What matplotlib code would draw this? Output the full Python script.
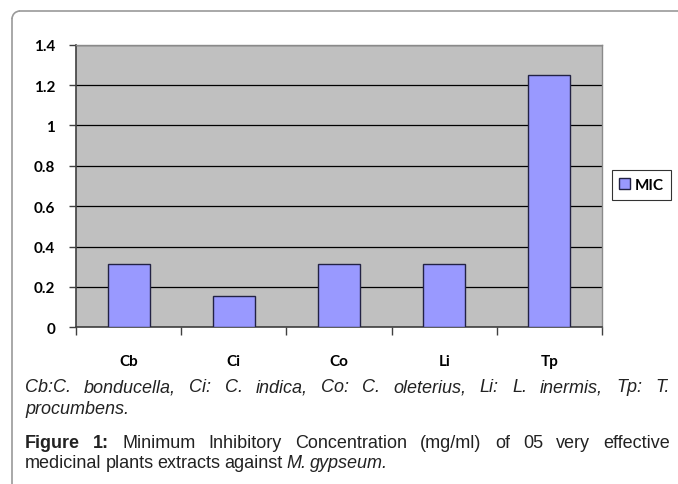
import matplotlib
matplotlib.use("Agg")
import matplotlib.pyplot as plt
from matplotlib import font_manager
from matplotlib.patches import Arc
from matplotlib.lines import Line2D

categories = ["Cb", "Ci", "Co", "Li", "Tp"]
mic_values = [0.3125, 0.156, 0.3125, 0.3125, 1.25]
series_name = "MIC"
y_ticks = [0, 0.2, 0.4, 0.6, 0.8, 1, 1.2, 1.4]
y_tick_labels = ["0", "0.2", "0.4", "0.6", "0.8", "1", "1.2", "1.4"]

names = {f.name for f in font_manager.fontManager.ttflist}
cap_font = "Liberation Sans Narrow" if "Liberation Sans Narrow" in names else "Liberation Sans"
tick_font = "Lato" if "Lato" in names else "DejaVu Sans"

W, H = 678, 485
fig = plt.figure(figsize=(W / 100, H / 100), dpi=100)

frame_ax = fig.add_axes([0, 0, 1, 1])
frame_ax.set_xlim(0, W)
frame_ax.set_ylim(H, 0)
frame_ax.axis("off")
r = 8
frame_ax.add_line(Line2D([12, 12], [H + 5, 12 + r], color="#9a9a9a", lw=1.2))
frame_ax.add_line(Line2D([12 + r, W + 5], [12, 12], color="#9a9a9a", lw=1.2))
frame_ax.add_patch(Arc((12 + r, 12 + r), 2 * r, 2 * r, theta1=180, theta2=270,
                       color="#9a9a9a", lw=1.2))

ax = fig.add_axes([76 / W, 1 - 328.3 / H, (602 - 76) / W, (328.3 - 45.7) / H])
ax.set_facecolor("#c0c0c0")
x = list(range(len(categories)))
bars = ax.bar(x, mic_values, width=0.4, color="#9999ff", edgecolor="#222244",
              linewidth=1.0, label=series_name, zorder=3)
ax.set_xlim(-0.5, len(categories) - 0.5)
ax.set_ylim(0, 1.4)
ax.set_yticks(y_ticks)
ax.set_yticklabels(y_tick_labels, fontsize=11, fontweight="bold", family=tick_font)
ax.yaxis.grid(True, color="black", lw=0.9, zorder=1)
ax.set_axisbelow(True)
ax.set_xticks(x)
ax.set_xticklabels(categories, fontsize=11, fontweight="bold", family=tick_font)
ax.tick_params(axis="x", length=0, pad=19)
ax.tick_params(axis="y", length=5, width=1, color="#404040", pad=10)
ax.set_xticks([i - 0.5 for i in range(len(categories) + 1)], minor=True)
ax.tick_params(axis="x", which="minor", length=6, width=1, color="#404040", direction="out")
for s in ["left", "bottom"]:
    ax.spines[s].set_color("#404040")
    ax.spines[s].set_linewidth(1.2)
for s in ["top", "right"]:
    ax.spines[s].set_color("#8a8a8a")
    ax.spines[s].set_linewidth(1.0)

leg = fig.legend(handles=[bars], labels=[series_name], loc="center",
                 bbox_to_anchor=(641.5 / W, 1 - 186 / H), frameon=True, fancybox=False,
                 edgecolor="black", prop={"family": tick_font, "weight": "bold", "size": 11},
                 handlelength=0.7, handleheight=0.7, handletextpad=0.3, borderpad=0.5,
                 borderaxespad=0)
leg.get_frame().set_linewidth(0.8)

fig.canvas.draw()
renderer = fig.canvas.get_renderer()

def put_line(parts, y, x0, x1=None, size=13):
    texts = []
    for w, st, wt in parts:
        t = frame_ax.text(0, y, w, fontsize=size, family=cap_font, style=st,
                          weight=wt, va="center", ha="left", color="#222222")
        texts.append(t)
    widths = [t.get_window_extent(renderer).width for t in texts]
    if x1 is None or len(texts) == 1:
        gap = size * 0.3
    else:
        gap = (x1 - x0 - sum(widths)) / (len(texts) - 1)
    xc = x0
    for t, wdt in zip(texts, widths):
        t.set_x(xc)
        xc += wdt + gap

def words(s, st="normal", wt="normal"):
    return [(w, st, wt) for w in s.split()]

put_line(words("Cb:C. bonducella, Ci: C. indica, Co: C. oleterius, Li: L. inermis, Tp: T.", "italic"),
         388, 25, 670)
put_line(words("procumbens.", "italic"), 410, 25)
put_line(words("Figure 1:", wt="bold") + words("Minimum Inhibitory Concentration (mg/ml) of 05 very effective"),
         444, 25, 670)
put_line(words("medicinal plants extracts against") + words("M. gypseum.", "italic"), 464, 25)

fig.savefig("out.png", dpi=100)
